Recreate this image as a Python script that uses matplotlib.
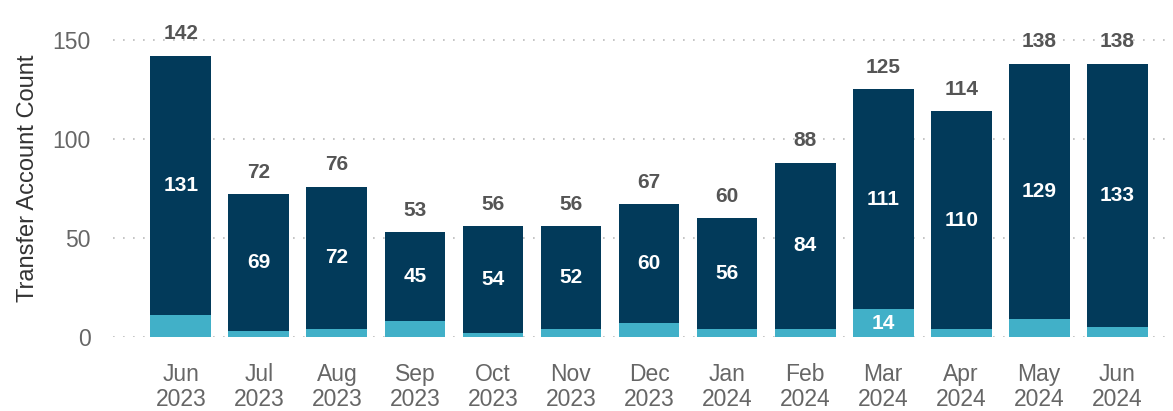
import numpy as np
import matplotlib.pyplot as plt

months = ["Jun\n2023", "Jul\n2023", "Aug\n2023", "Sep\n2023", "Oct\n2023", "Nov\n2023", "Dec\n2023",
          "Jan\n2024", "Feb\n2024", "Mar\n2024", "Apr\n2024", "May\n2024", "Jun\n2024"]
light = [11, 3, 4, 8, 2, 4, 7, 4, 4, 14, 4, 9, 5]
dark = [131, 69, 72, 45, 54, 52, 60, 56, 84, 111, 110, 129, 133]
totals = [142, 72, 76, 53, 56, 56, 67, 60, 88, 125, 114, 138, 138]

plt.rcParams['font.family'] = ['Liberation Sans', 'DejaVu Sans']

fig = plt.figure(figsize=(11.73, 4.11), dpi=100)
ax = fig.add_axes([0.0963, 0.18, 0.8967, 0.771])

x = np.arange(len(months))
w = 0.78
ax.bar(x, light, w, color="#41b0c8", zorder=3)
ax.bar(x, dark, w, bottom=light, color="#023a5a", zorder=3)

for i in x:
    # dark segment label in the middle
    ax.text(i, light[i] + dark[i] / 2, str(dark[i]), ha="center", va="center",
            color="white", fontsize=15, fontweight="bold", zorder=4)
    if light[i] >= 12:
        ax.text(i, light[i] / 2, str(light[i]), ha="center", va="center",
                color="white", fontsize=15, fontweight="bold", zorder=4)
    ax.annotate(str(totals[i]), (i, totals[i]), xytext=(0, 9), textcoords="offset points",
                ha="center", va="bottom", color="#555555", fontsize=15, fontweight="bold")

ax.set_xlim(-0.87, 12.61)
ax.set_ylim(0, 160)
ax.set_yticks([0, 50, 100, 150])
ax.set_xticks(x)
ax.set_xticklabels(months, linespacing=1.1)
ax.tick_params(axis="both", length=0, labelsize=16.5, labelcolor="#666666")
ax.tick_params(axis="x", pad=19)
ax.tick_params(axis="y", pad=16)
ax.grid(axis="y", linestyle=(0, (1, 5)), color="#bbbbbb", linewidth=1.2, zorder=0)
for s in ax.spines.values():
    s.set_visible(False)
ax.set_ylabel("Transfer Account Count", fontsize=17, color="#333333", labelpad=10)

fig.savefig("out.png", dpi=100)
